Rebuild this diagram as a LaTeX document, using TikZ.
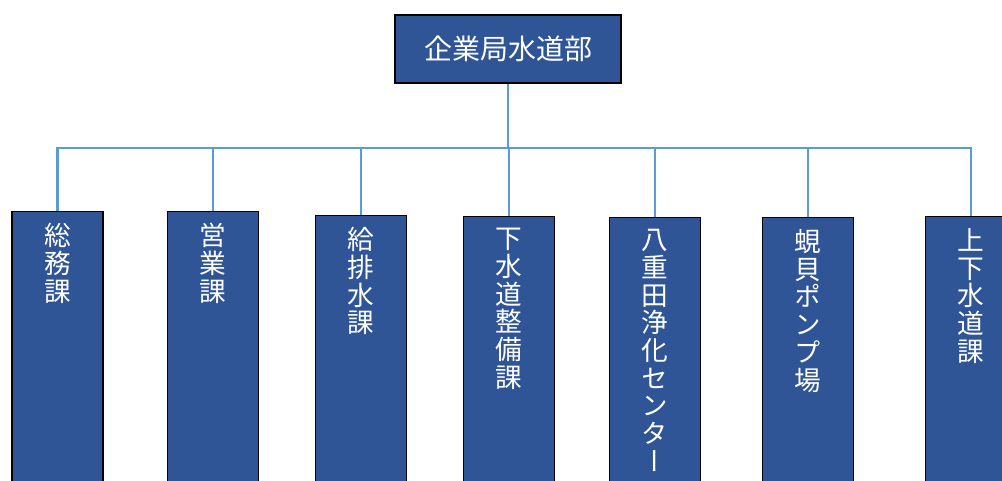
\documentclass[tikz,border=0pt]{standalone}
\usepackage{fontspec}
\setmainfont{Noto Sans CJK JP}
\newfontfamily\tate{Noto Sans CJK JP}[RawFeature={+vert}]
\definecolor{boxblue}{RGB}{47,85,151}
\definecolor{linkblue}{RGB}{91,155,213}

\begin{document}
\begin{tikzpicture}[x=0.75pt,y=-0.75pt,
	box/.style={draw=black, line width=1.1pt, fill=boxblue, inner sep=0pt},
	unit/.style={box, anchor=north, minimum width=68.25pt, minimum height=225pt},
	tatename/.style={anchor=north, inner sep=0pt, align=center, text=white, font=\tate\fontsize{20}{20.8}\selectfont},
	link/.style={draw=linkblue, line width=1.6pt}]
	\useasboundingbox (0,0) rectangle (1002,481);
	\clip (0,0) rectangle (1002,481);
		% head office
		\node (0)[box, minimum width=169.5pt, minimum height=51pt, text=white, font=\fontsize{21}{24}\selectfont] at (508,49) {企業局水道部};
		\coordinate (bus) at (508,148);
		% sections
		\node (1)[unit] at (57.5,211) {};
		\node (2)[unit] at (213,211) {};
		\node (3)[unit] at (361,215) {};
		\node (4)[unit] at (509,216) {};
		\node (5)[unit] at (655,217) {};
		\node (6)[unit] at (808,217) {};
		\node (7)[unit] at (971,216) {};
		\node (t1)[tatename] at ([yshift=-9pt]1.north) {総\\務\\課};
		\node (t2)[tatename] at ([yshift=-9pt]2.north) {営\\業\\課};
		\node (t3)[tatename] at ([yshift=-9pt]3.north) {給\\排\\水\\課};
		\node (t4)[tatename] at ([yshift=-9pt]4.north) {下\\水\\道\\整\\備\\課};
		\node (t5)[tatename] at ([yshift=-9pt]5.north) {八\\重\\田\\浄\\化\\セ\\ン\\タ\\ー};
		\node (t6)[tatename] at ([yshift=-9pt]6.north) {蜆\\貝\\ポ\\ン\\プ\\場};
		\node (t7)[tatename] at ([yshift=-9pt]7.north) {上\\下\\水\\道\\課};
		% links
		\draw[link] (0.south) -- (bus);
		\draw[link] (1.north) |- (bus);
		\draw[link] (2.north) |- (bus);
		\draw[link] (3.north) |- (bus);
		\draw[link] (4.north) |- (bus);
		\draw[link] (5.north) |- (bus);
		\draw[link] (6.north) |- (bus);
		\draw[link] (7.north) |- (bus);
	\end{tikzpicture}
\end{document}
